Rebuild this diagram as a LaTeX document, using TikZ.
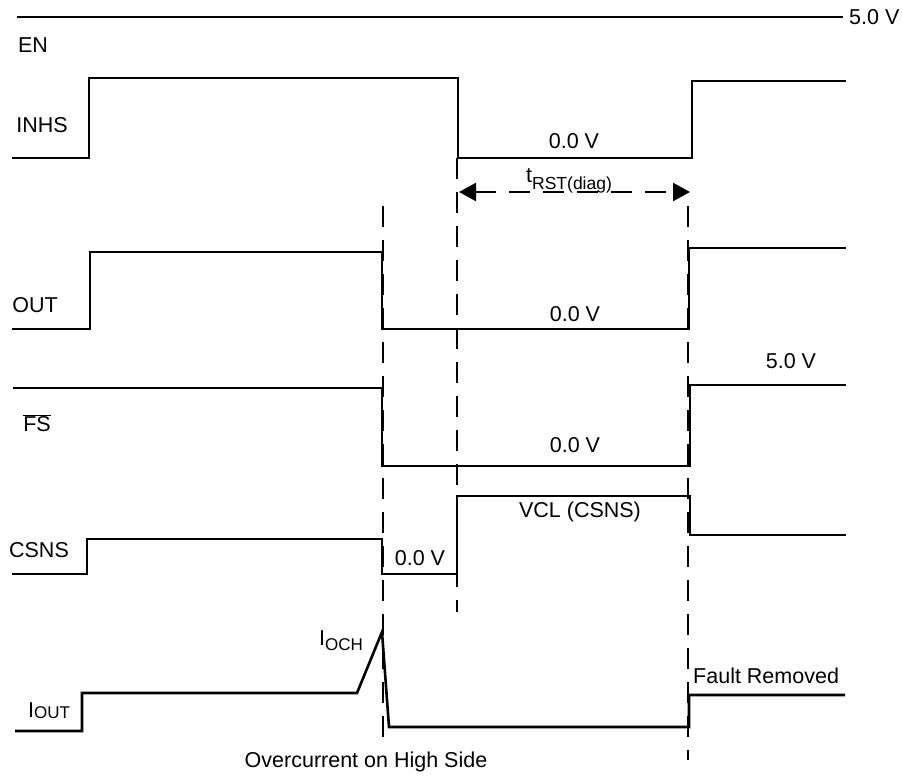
\documentclass[tikz,border=0pt]{standalone}
\usepackage{fontspec}
\setmainfont{Liberation Sans}
\usetikzlibrary{arrows.meta}
\newcommand\subtxt[3][-5pt]{\raisebox{#1}{\fontsize{#2}{18}\selectfont #3}}
\begin{document}
\begin{tikzpicture}[x=1pt,y=-1pt,
  sig/.style={line width=2.6pt, line join=miter},
  guide/.style={line width=2.4pt, dash pattern=on 21pt off 13pt},
  lbl/.style={inner sep=0pt, font=\fontsize{21.5}{24}\selectfont},
]
\useasboundingbox (0,0) rectangle (903,776);

% waveforms
\draw[sig] (17,17) -- (843,17);
\draw[sig] (12,158) -- (89,158) -- (89,78) -- (458,78) -- (458,158) -- (692,158) -- (692,81) -- (846,81);
\draw[sig] (12,329) -- (90,329) -- (90,252) -- (382,252) -- (382,329) -- (689,329) -- (689,248) -- (846,248);
\draw[sig] (13,388) -- (382,388) -- (382,466) -- (690,466) -- (690,385) -- (846,385);
\draw[sig] (12,574) -- (87,574) -- (87,539) -- (382,539) -- (382,574) -- (457,574) -- (457,496) -- (690,496) -- (690,535) -- (846,535);
\draw[sig] (15,731) -- (82,731) -- (82,693) -- (357,693) -- (382,632) -- (389,727) -- (689,727) -- (689,695) -- (845,695);

% guide lines
\coordinate (g1t) at (383,206); \coordinate (g1b) at (383,748);
\coordinate (g2t) at (457,158); \coordinate (g2b) at (457,612);
\coordinate (g3t) at (688,206); \coordinate (g3b) at (688,760);
\draw[guide] (g1t) -- (g1b);
\draw[guide] (g2t) -- (g2b);
\draw[guide] (g3t) -- (g3b);
\coordinate (al) at (459,192); \coordinate (ar) at (690,192);
\draw[guide, {Triangle[length=17pt,width=18pt]}-{Triangle[length=17pt,width=18pt]}] (al) -- (ar);

% labels
\node[lbl] (en) at (33,45) {EN};
\node[lbl, anchor=west] (v5a) at (849,17) {5.0 V};
\node[lbl] (inhs) at (42,125) {INHS};
\node[lbl] (z1) at (574,141) {0.0 V};
\node[lbl, anchor=base west] (trst) at (526,182) {t\subtxt[-7pt]{17.5}{RST(diag)}};
\node[lbl] (out) at (35,305) {OUT};
\node[lbl] (z2) at (575,314) {0.0 V};
\node[lbl] (v5b) at (791,361) {5.0 V};
\node[lbl] (fs) at (37,423) {$\overline{\mbox{FS}}$};
\node[lbl] (z3) at (575,445) {0.0 V};
\node[lbl] (csns) at (39,550) {CSNS};
\node[lbl] (z4) at (420,558) {0.0 V};
\node[lbl] (vcl) at (580,512) {VCL (CSNS)};
\node[lbl, anchor=base west] (ioch) at (319,645) {I\subtxt{17}{OCH}};
\node[lbl, anchor=base west] (iout) at (28,717) {I\subtxt[-1pt]{17}{OUT}};
\node[lbl, anchor=west] (fault) at (693,676) {Fault Removed};
\node[lbl] (oc) at (366,762) {Overcurrent on High Side};
\end{tikzpicture}
\end{document}
